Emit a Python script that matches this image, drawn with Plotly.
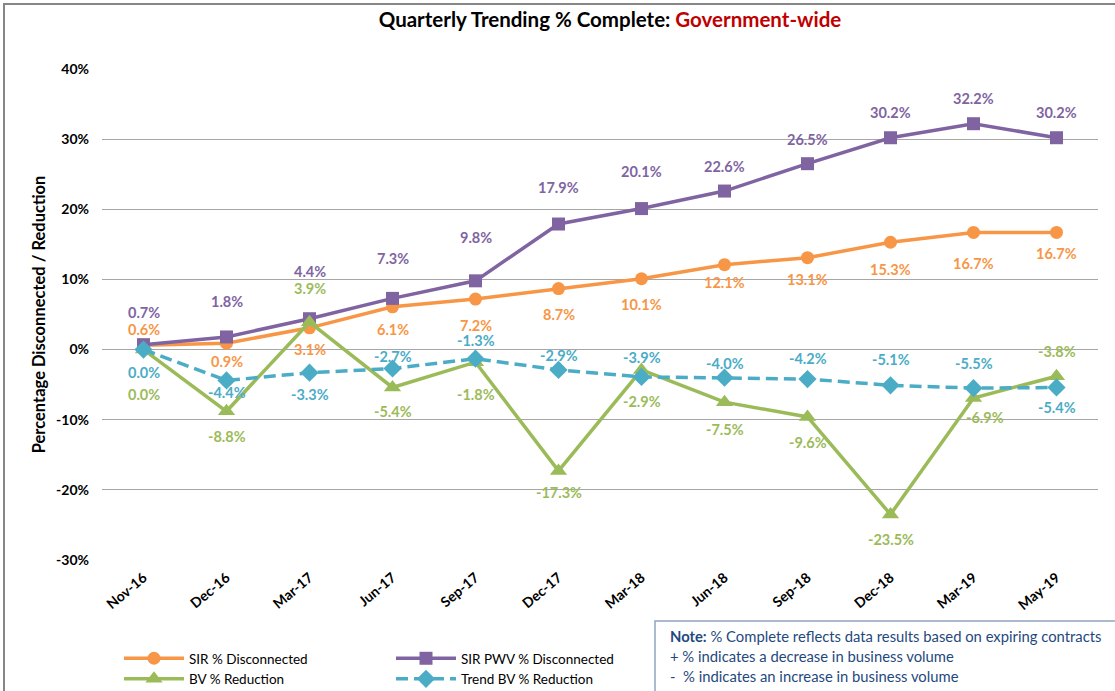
import plotly.graph_objects as go

# ---- data ----
quarters = ['Nov-16', 'Dec-16', 'Mar-17', 'Jun-17', 'Sep-17', 'Dec-17',
            'Mar-18', 'Jun-18', 'Sep-18', 'Dec-18', 'Mar-19', 'May-19']
sir_disconnected = [0.6, 0.9, 3.1, 6.1, 7.2, 8.7, 10.1, 12.1, 13.1, 15.3, 16.7, 16.7]
sir_pwv_disconnected = [0.7, 1.8, 4.4, 7.3, 9.8, 17.9, 20.1, 22.6, 26.5, 30.2, 32.2, 30.2]
bv_reduction = [0.0, -8.8, 3.9, -5.4, -1.8, -17.3, -2.9, -7.5, -9.6, -23.5, -6.9, -3.8]
trend_bv_reduction = [0.0, -4.4, -3.3, -2.7, -1.3, -2.9, -3.9, -4.0, -4.2, -5.1, -5.5, -5.4]
y_ticks = [-30, -20, -10, 0, 10, 20, 30, 40]

note_lines = ['<b>Note:</b> % Complete reflects data results based on expiring contracts',
              '+ % indicates a decrease in business volume',
              '-\u00a0\u00a0% indicates an increase in business volume']

# ---- label placement (pixel nudges, like the hand-placed Excel labels) ----
sir_shift = [16, -18, -22, -23, -26, -26, -26, -18, -22, -27, -31, -21]
pwv_shift = [32, 35, 47, 40, 43, 37, 37, 25, 24, 25, 25, 25]
bv_shift = [-45, -25, 34, -24, -32, -22, -32, -27, -26, -25, -20, 25]
bv_xshift = [0, 0, 0, 0, 0, 0, 0, 0, 0, 0, 11, 0]
trend_shift = [-23, -12, -22, 12, 18, 14, 19, 14, 21, 26, 25, -20]

ORANGE = '#F79646'
PURPLE = '#8064A2'
GREEN = '#9BBB59'
CYAN = '#4BACC6'
FONT = 'Lato, Open Sans, sans-serif'

W, H = 1115, 691
L, R, T, B = 102, 17, 69, 131


def px_x(x):
    return (x - L) / (W - L - R)


def px_y(y):
    return (H - B - y) / (H - T - B)


fig = go.Figure()

series = [
    ('SIR % Disconnected', sir_disconnected, ORANGE, 'circle', 13, 'solid', 'legend', sir_shift, None),
    ('SIR PWV % Disconnected', sir_pwv_disconnected, PURPLE, 'square', 13, 'solid', 'legend2', pwv_shift, None),
    ('BV % Reduction', bv_reduction, GREEN, 'triangle-up', 15, 'solid', 'legend', bv_shift, bv_xshift),
    ('Trend BV % Reduction', trend_bv_reduction, CYAN, 'diamond', 14, '12px,6px', 'legend2', trend_shift, None),
]

for name, vals, color, symbol, msize, dash, leg, shifts, xshifts in series:
    fig.add_trace(go.Scatter(x=quarters, y=vals, mode='lines+markers', name=name,
                             line=dict(color=color, width=3.5, dash=dash),
                             marker=dict(symbol=symbol, size=msize, color=color),
                             legend=leg, hoverinfo='skip'))
    for i, (q, v) in enumerate(zip(quarters, vals)):
        fig.add_annotation(x=q, y=v, text='<b>{:.1f}%</b>'.format(v), showarrow=False,
                           xanchor='center', yanchor='middle',
                           yshift=shifts[i], xshift=xshifts[i] if xshifts else 0,
                           font=dict(family=FONT, size=14.5, color=color))

legend_style = dict(xanchor='left', yanchor='top', itemwidth=60,
                    font=dict(family=FONT, size=13.5, color='black'), bgcolor='rgba(0,0,0,0)')

fig.update_layout(
    width=W, height=H,
    margin=dict(l=L, r=R, t=T, b=B, autoexpand=False),
    plot_bgcolor='white', paper_bgcolor='white',
    title=dict(text="<b>Quarterly Trending % Complete: <span style='color:#C00000'>Government-wide</span></b>",
               x=610 / W, xanchor='center', xref='container',
               y=1 - 20 / H, yanchor='middle', yref='container',
               font=dict(family=FONT, size=20.5, color='black')),
    legend=dict(x=px_x(119), y=px_y(643), **legend_style),
    legend2=dict(x=px_x(391), y=px_y(643), **legend_style),
)

fig.update_xaxes(range=[-0.5, len(quarters) - 0.5], showgrid=False, showline=False,
                 ticks='', tickangle=-40, ticklabelstandoff=6,
                 tickfont=dict(family=FONT, size=14, color='black'),
                 tickprefix='<b>', ticksuffix='</b>')
fig.update_yaxes(range=[-30, 40], tickvals=y_ticks, ticktext=['<b>{}%</b>'.format(t) for t in y_ticks],
                 showgrid=True, gridcolor='#A6A6A6', gridwidth=1, zeroline=False, showline=False,
                 ticks='', ticklabelstandoff=12,
                 tickfont=dict(family=FONT, size=14, color='black'),
                 title=dict(text='<b>Percentage Disconnected / Reduction</b>', standoff=6,
                            font=dict(family=FONT, size=16.5, color='black')))

# outer chart frame (top and left edges visible, rest runs off the page)
fig.add_shape(type='rect', xref='paper', yref='paper',
              x0=px_x(4), x1=px_x(W + 20), y0=px_y(H + 20), y1=px_y(4),
              line=dict(color='#868686', width=2), fillcolor='rgba(0,0,0,0)', layer='below')

# note box
fig.add_shape(type='rect', xref='paper', yref='paper',
              x0=px_x(655), x1=px_x(W + 20), y0=px_y(H + 20), y1=px_y(621),
              line=dict(color='#8EA4C0', width=1.5), fillcolor='white')
for i, line in enumerate(note_lines):
    fig.add_annotation(xref='paper', yref='paper', x=px_x(668), y=px_y(636 + 20 * i),
                       xanchor='left', yanchor='middle', showarrow=False, text=line,
                       font=dict(family=FONT, size=14.8, color='#1F497D'))

# drop the default page margin so the fixed-size figure sits at the window's corner
fig.write_html('out.html', config={'displayModeBar': False},
               post_script="document.body.style.margin='0';")
